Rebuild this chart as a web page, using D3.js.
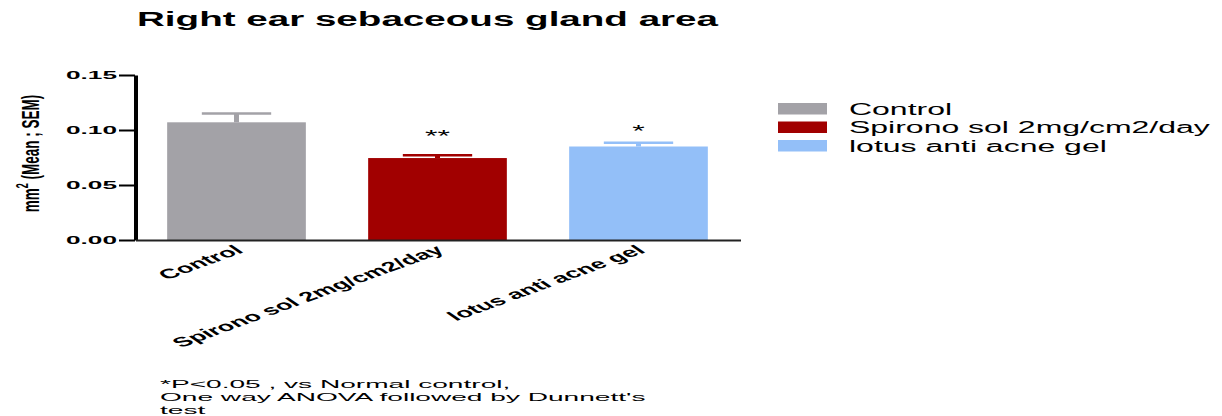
<!DOCTYPE html>
<html>
<head>
<meta charset="utf-8">
<script src="https://cdn.jsdelivr.net/npm/d3@7"></script>
<style>
  html, body { margin: 0; padding: 0; background: #fff; }
  svg { display: block; font-family: "Liberation Sans", Arial, sans-serif; }
</style>
</head>
<body>
<svg id="chart" width="1222" height="416"></svg>
<script>
// ---- data ----
const categories = ["Control", "Spirono sol 2mg/cm2/day", "lotus anti acne gel"];
const means = [0.107, 0.0745, 0.085];
const sems = [0.008, 0.0025, 0.0033];
const colors = ["#a3a2a7", "#a10000", "#93bff8"];
const sigLabels = ["", "**", "*"];
const sigValues = [null, 0.0975, 0.1015];
const yTicks = [0.00, 0.05, 0.10, 0.15];
const titleText = "Right ear sebaceous gland area";
const yLabelParts = ["mm", "2", " (Mean ; SEM)"];
const footnote = ["*P<0.05 , vs Normal control,", "One way ANOVA followed by Dunnett's", "test"];

// ---- layout (drawn in a half-width space, then stretched 2x horizontally like the reference) ----
const svg = d3.select("#chart");
const root = svg.append("g").attr("transform", "scale(2,1)");

const x = d3.scaleBand().domain(categories).range([67.5, 370]).paddingInner(0.31).paddingOuter(0.16);
const y = d3.scaleLinear().domain([0, 0.15]).range([240, 75]);

// title
root.append("text")
  .attr("x", 68.5).attr("y", 26)
  .attr("font-size", 19.3).attr("font-weight", "bold").attr("fill", "#000")
  .text(titleText);

// bars
const rows = categories.map((c, i) => ({c, m: means[i], s: sems[i], col: colors[i], sig: sigLabels[i], sv: sigValues[i]}));

root.selectAll("rect.bar").data(rows).enter().append("rect")
  .attr("class", "bar")
  .attr("x", d => x(d.c))
  .attr("y", d => y(d.m))
  .attr("width", x.bandwidth())
  .attr("height", d => y(0) - y(d.m))
  .attr("fill", d => d.col);

// error bars (upper only)
const eb = root.selectAll("g.eb").data(rows).enter().append("g").attr("class", "eb");
eb.append("line")
  .attr("x1", d => x(d.c) + x.bandwidth() / 2).attr("x2", d => x(d.c) + x.bandwidth() / 2)
  .attr("y1", d => y(d.m)).attr("y2", d => y(d.m + d.s))
  .attr("stroke", d => d.col).attr("stroke-width", 2.5);
eb.append("line")
  .attr("x1", d => x(d.c) + x.bandwidth() / 4).attr("x2", d => x(d.c) + x.bandwidth() * 3 / 4)
  .attr("y1", d => y(d.m + d.s)).attr("y2", d => y(d.m + d.s))
  .attr("stroke", d => d.col).attr("stroke-width", 2.5);

// significance stars
root.selectAll("text.sig").data(rows.filter(d => d.sig)).enter().append("text")
  .attr("class", "sig")
  .attr("x", d => x(d.c) + x.bandwidth() / 2)
  .attr("y", d => y(d.sv) + 9)
  .attr("text-anchor", "middle")
  .attr("font-size", 16).attr("fill", "#000")
  .text(d => d.sig);

// y axis
const fmt = d3.format(".2f");
const yAxis = root.append("g").attr("transform", "translate(67.5,0)")
  .call(d3.axisLeft(y).tickValues(yTicks).tickFormat(fmt).tickSize(8).tickSizeOuter(0).tickPadding(1));
yAxis.select(".domain").attr("stroke", "#000").attr("stroke-width", 2);
yAxis.selectAll(".tick line").attr("stroke", "#000").attr("stroke-width", 2);
yAxis.selectAll(".tick text")
  .attr("font-family", "'Liberation Sans', Arial, sans-serif")
  .attr("font-size", 11.5).attr("font-weight", "bold").attr("fill", "#000")
  .attr("textLength", 25.5).attr("lengthAdjust", "spacingAndGlyphs");

// x axis
const xAxis = root.append("g").attr("transform", "translate(0,240)")
  .call(d3.axisBottom(x).tickSize(0).tickSizeOuter(0));
xAxis.select(".domain").attr("stroke", "#222").attr("stroke-width", 2);
xAxis.selectAll(".tick text")
  .attr("font-family", "'Liberation Sans', Arial, sans-serif")
  .attr("font-size", 13.5).attr("font-weight", "bold").attr("fill", "#000")
  .attr("text-anchor", "end")
  .attr("x", 4).attr("y", 12).attr("dy", 0)
  .attr("transform", "rotate(-36,4,12)");

// y label
const yl = root.append("text")
  .attr("transform", "translate(19.5,153.5) rotate(-90) scale(1,0.9)")
  .attr("text-anchor", "middle")
  .attr("font-size", 13.5).attr("font-weight", "bold").attr("fill", "#000");
yl.append("tspan").text(yLabelParts[0]);
yl.append("tspan").attr("font-size", 9).attr("dy", -6).text(yLabelParts[1]);
yl.append("tspan").attr("dy", 6).text(yLabelParts[2]);

// legend
const lg = root.selectAll("g.lg").data(rows).enter().append("g").attr("class", "lg")
  .attr("transform", (d, i) => `translate(389,${103 + i * 18.5})`);
lg.append("rect").attr("width", 24.5).attr("height", 11.5).attr("fill", d => d.col);
lg.append("text").attr("x", 35.5).attr("y", 11.5)
  .attr("font-size", 16).attr("fill", "#000").text(d => d.c);

// footnote
const fn = root.append("g").attr("transform", "translate(80,388) scale(1.19,1)")
  .append("text").attr("x", 0).attr("y", 0)
  .attr("font-size", 11.8).attr("fill", "#000");
footnote.forEach((t, i) => fn.append("tspan").attr("x", 0).attr("dy", i === 0 ? 0 : 13).text(t));
</script>
</body>
</html>
